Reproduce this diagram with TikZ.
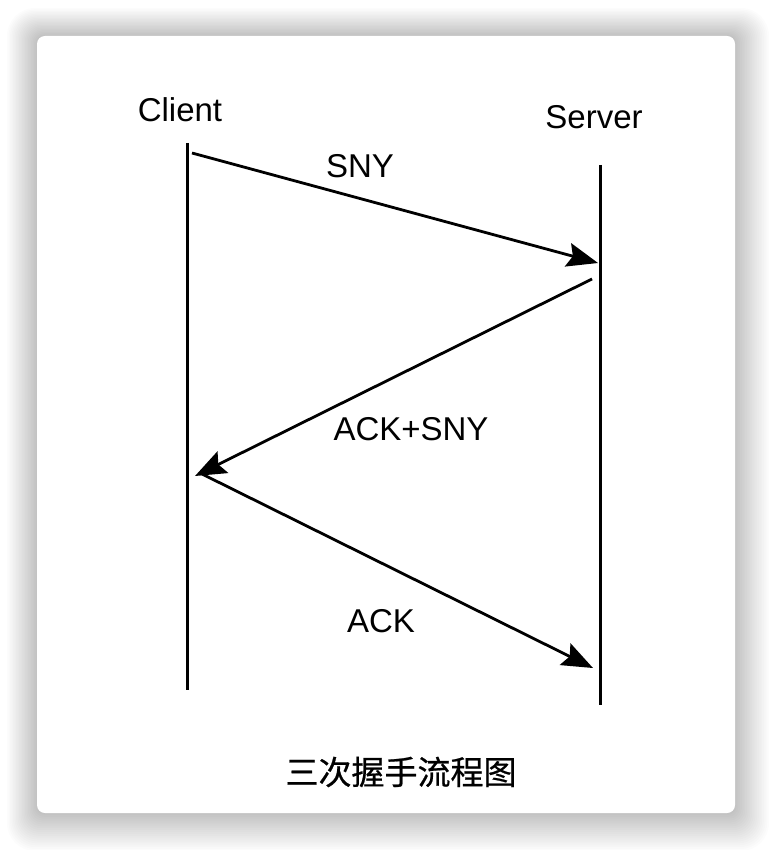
\documentclass[tikz,border=0pt]{standalone}
\usepackage{fontspec}
\setmainfont{Liberation Sans}
\newfontfamily\cjk[FakeBold=0.6]{Noto Sans CJK SC}
\usepackage{tikz}
\usetikzlibrary{arrows.meta}
\newcommand{\lifewidth}{3pt}
\newcommand{\msgwidth}{2.8pt}
\newcommand{\labelfont}{\fontsize{33}{39}\selectfont}

\begin{document}
\begin{tikzpicture}[x=1pt,y=-1pt,
  lifeline/.style={line width=\lifewidth},
  msg/.style={line width=\msgwidth,-{Stealth[length=31pt,width=24pt,inset=5pt]}},
  actor/.style={font=\labelfont,inner sep=0pt},
  msglabel/.style={font=\labelfont,inner sep=0pt}]
\useasboundingbox (0,0) rectangle (772,850);
\fill[white] (0,0) rectangle (772,850);
% card shadow
\foreach \s in {1,...,20}
  \fill[black,opacity=0.011,rounded corners=8+\s] (37-1.5*\s,36-1.4*\s) rectangle (735+1.7*\s,813+1.9*\s);
\fill[white,rounded corners=8] (37,36) rectangle (735,813);
% actors
\node[actor] (client) at (180,110) {Client};
\node[actor] (server) at (594,117) {Server};
\coordinate (ctop) at (187,143);
\coordinate (cbot) at (187,690);
\coordinate (stop) at (600,165);
\coordinate (sbot) at (600,705);
\draw[lifeline] (ctop) -- (cbot);
\draw[lifeline] (stop) -- (sbot);
% messages
\coordinate (c1) at (192,153);
\coordinate (s1) at (598,263);
\coordinate (s2) at (592,279);
\coordinate (c2) at (195,476);
\coordinate (c3) at (202,474);
\coordinate (s3) at (593,668);
\draw[msg] (c1) -- (s1);
\draw[msg] (s2) -- (c2);
\draw[msg] (c3) -- (s3);
\node[msglabel] (syn) at (360,166) {SNY};
\node[msglabel] (synack) at (411,429) {ACK+SNY};
\node[msglabel] (ack) at (381,621) {ACK};
% caption
\node[inner sep=0pt,font=\cjk\fontsize{33}{40}\selectfont] (title) at (401,772) {三次握手流程图};
\end{tikzpicture}
\end{document}
